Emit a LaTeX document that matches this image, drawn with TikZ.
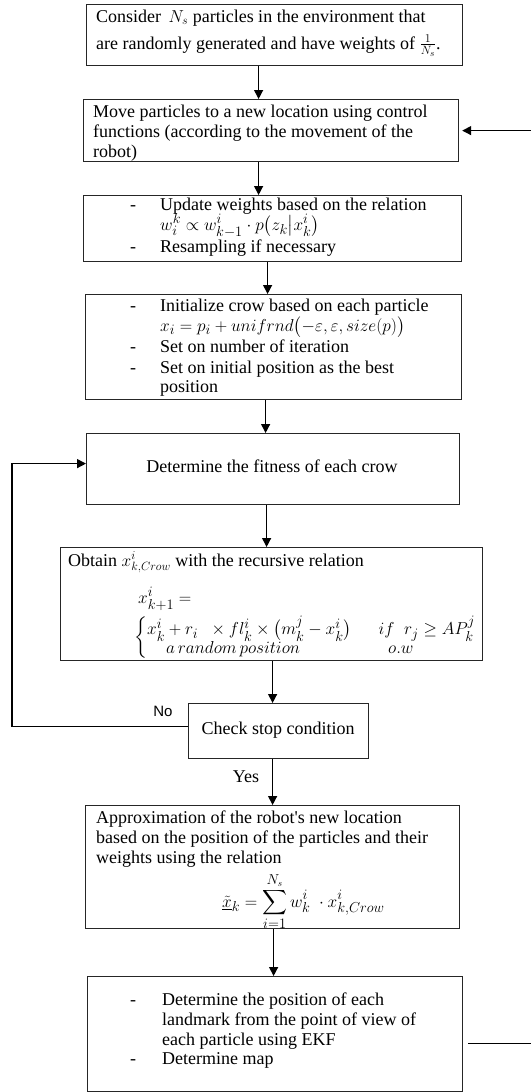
\documentclass[tikz,border=0pt]{standalone}
\usepackage{amsmath}
\usepackage{fontspec}
\setmainfont{Liberation Serif}
\newfontfamily\arialfont{Liberation Sans}
\usetikzlibrary{arrows.meta}
\tikzset{
  box/.style={draw=black!85, line width=1.2pt, rectangle, inner sep=0pt, anchor=north west},
  txt/.style={anchor=base west, inner sep=0pt, font=\fontsize{18}{20}\selectfont},
  mtxt/.style={anchor=base west, inner sep=0pt, font=\fontsize{19}{21}\selectfont},
  ctxt/.style={anchor=center, inner sep=0pt, font=\fontsize{18}{20}\selectfont},
  arr/.style={line width=1.3pt, draw=black, -{Triangle[width=9pt,length=9pt]}}
}
\begin{document}
\begin{tikzpicture}[x=1pt,y=-1pt]
\useasboundingbox (0,0) rectangle (530,1092);
% boxes
\node[box, minimum width=376pt, minimum height=61pt] (b1) at (86,4) {};
\node[box, minimum width=375pt, minimum height=62pt] (b2) at (83,99) {};
\node[box, minimum width=378pt, minimum height=66pt] (b3) at (83,195) {};
\node[box, minimum width=376pt, minimum height=105pt] (b4) at (85,294) {};
\node[box, minimum width=373pt, minimum height=71pt] (b5) at (86,433) {};
\node[box, minimum width=422pt, minimum height=113pt] (b6) at (60,547) {};
\node[box, minimum width=180pt, minimum height=55pt] (chk) at (188,703) {};
\node[box, minimum width=374pt, minimum height=123pt] (b7) at (85,805) {};
\node[box, minimum width=375pt, minimum height=115pt] (b8) at (87,976) {};
% box 1
\node[txt] (t1a) at (96,22) {Consider \,$N_s$ particles in the environment that};
\node[txt] (t1b) at (96,49) {are randomly generated and have weights of $\frac{1}{N_s}$.};
% box 2
\node[txt] (t2a) at (93,117) {Move particles to a new location using control};
\node[txt] (t2b) at (93,137) {functions (according to the movement of the};
\node[txt] (t2c) at (93,157) {robot)};
% box 3
\node[txt] (d3a) at (130,210) {-};
\node[txt] (t3a) at (160,210) {Update weights based on the relation};
\node[mtxt] (t3b) at (160,230) {$w_i^k \propto w_{k-1}^i\cdot p\bigl(z_k\big|x_k^i\bigr)$};
\node[txt] (d3c) at (130,252) {-};
\node[txt] (t3c) at (160,252) {Resampling if necessary};
% box 4
\node[txt] (d4a) at (130,311) {-};
\node[txt] (t4a) at (160,311) {Initialize crow based on each particle};
\node[mtxt] (t4b) at (160,331) {$x_i = p_i + unifrnd\bigl(-\varepsilon,\varepsilon,size(p)\bigr)$};
\node[txt] (d4c) at (130,352) {-};
\node[txt] (t4c) at (160,352) {Set on number of iteration};
\node[txt] (d4d) at (130,373) {-};
\node[txt] (t4d) at (160,373) {Set on initial position as the best};
\node[txt] (t4e) at (160,392) {position};
% box 5
\node[ctxt] (t5) at (272,466) {Determine the fitness of each crow};
% box 6
\node[txt] (t6a) at (68,566) {Obtain $x^i_{k,Crow}$ with the recursive relation};
\node[mtxt] (t6b) at (138,603) {$x^i_{k+1} =$};
\node[anchor=west, inner sep=0pt, font=\fontsize{19}{21}\selectfont] (t6c) at (134,638)
  {$\left\{\begin{array}{@{}l@{\hspace{27pt}}l@{}}
   x_k^i + r_i\;\; \times fl_k^i \times \bigl(m_k^j - x_k^i\bigr) & if\;\; r_j \ge AP_k^j\\[-3pt]
   \quad a\,random\,position & \;\;o.w
  \end{array}\right.$};
% check box
\node[ctxt] (t7) at (278,730) {Check stop condition};
\node[anchor=center, inner sep=0pt, font=\arialfont\fontsize{15}{17}\selectfont] (no) at (163,711) {No};
\node[ctxt] (yes) at (246,777) {Yes};
% box 7
\node[txt] (t8a) at (96,823) {Approximation of the robot\textquotesingle s new location};
\node[txt] (t8b) at (96,843) {based on the position of the particles and their};
\node[txt] (t8c) at (96,863) {weights using the relation};
\node[mtxt] (t8d) at (222,907) {$\displaystyle \underline{\tilde{x}}_k = \sum_{i=1}^{N_s} w_k^i\;\cdot x^i_{k,Crow}$};
% box 8
\node[txt] (d9a) at (130,1005) {-};
\node[txt] (t9a) at (162,1005) {Determine the position of each};
\node[txt] (t9b) at (162,1025) {landmark from the point of view of};
\node[txt] (t9c) at (162,1045) {each particle using EKF};
\node[txt] (d9d) at (130,1064) {-};
\node[txt] (t9d) at (162,1064) {Determine map};
% connectors
\draw[arr] ([xshift=-16pt]b1.south) -- ([xshift=-12.5pt]b2.north);
\draw[arr] ([xshift=-12.5pt]b2.south) -- ([xshift=-14pt]b3.north);
\draw[arr] ([xshift=-5pt]b3.south) -- ([xshift=-6pt]b4.north);
\draw[arr] ([xshift=-8pt]b4.south) -- ([xshift=-7.5pt]b5.north);
\draw[arr] ([xshift=-6.5pt]b5.south) -- ([xshift=-5pt]b6.north);
\draw[arr] ([xshift=1pt]b6.south) -- ([xshift=-6pt]chk.north);
\draw[arr] ([xshift=-6pt]chk.south) -- (b7.north);
\draw[arr] ([xshift=1pt]b7.south) -- ([xshift=-1.5pt]b8.north);
\coordinate (lp) at (12,600);
\draw[arr] ([yshift=4.5pt]chk.west) -| (lp) |- ([yshift=5.5pt]b5.west);
\coordinate (rt) at (545,600);
\draw[arr] ([yshift=-9.5pt,xshift=5pt]b8.east) -| (rt) |- ([xshift=3pt]b2.east);
\end{tikzpicture}
\end{document}
